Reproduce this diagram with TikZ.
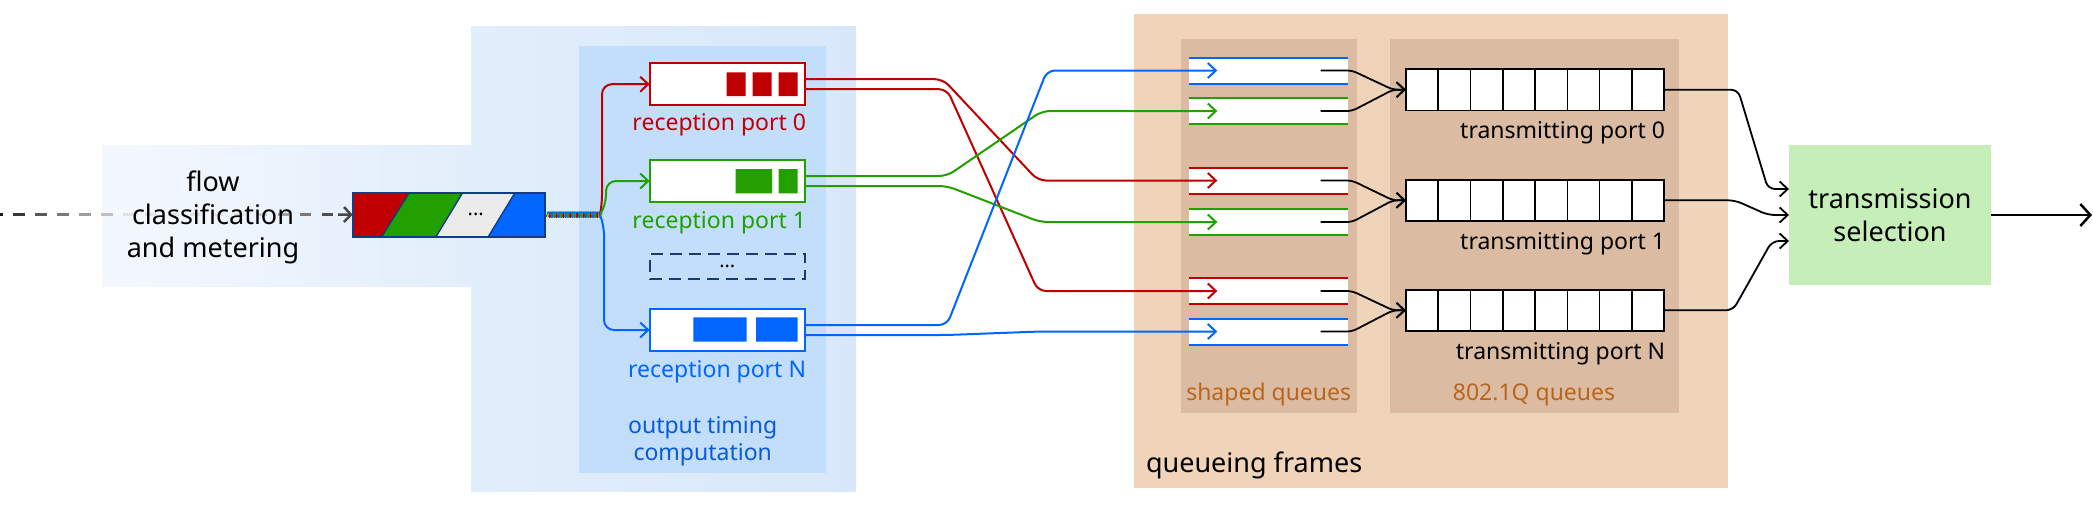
\documentclass[tikz,border=0pt]{standalone}
\usepackage{fontspec}
\setmainfont{Noto Sans}
\usetikzlibrary{arrows.meta,calc}
\definecolor{cred}{HTML}{C00000}
\definecolor{cgreen}{HTML}{22A000}
\definecolor{cblue}{HTML}{0066FF}
\definecolor{tblue}{HTML}{0A5AD6}
\definecolor{navy}{HTML}{123C86}
\definecolor{dnavy}{HTML}{1B3A6E}
\definecolor{bgoutL}{HTML}{E1EEFB}
\definecolor{bgoutR}{HTML}{D8E8FA}
\definecolor{bgin}{HTML}{C2DEFA}
\definecolor{flowL}{HTML}{F4F8FE}
\definecolor{flowR}{HTML}{E2EEFB}
\definecolor{orout}{HTML}{F0D4BA}
\definecolor{orin}{HTML}{DBBCA3}
\definecolor{ortext}{HTML}{B8661E}
\definecolor{selgreen}{HTML}{C6EEB9}
\definecolor{seggray}{HTML}{EBEBEB}
\newcommand\mainfs{\fontsize{27}{33}\selectfont}
\newcommand\smallfs{\fontsize{23}{27}\selectfont}
\begin{document}
\begin{tikzpicture}[x=1pt,y=-1pt, inner sep=0pt, outer sep=0pt,
  tip/.style={-{Straight Barb[length=8,width=15]}},
  conn/.style={line width=2, rounded corners=8, tip},
  rport/.style={draw, line width=2, fill=white, minimum width=155.3, minimum height=41.7},
  tport/.style={draw=black, line width=1.6, fill=white, minimum width=258.4, minimum height=41.2},
  sbar/.style={fill=white, minimum width=158.7, minimum height=26},
  lbl/.style={font=\smallfs, anchor=base east},
  qlbl/.style={font=\smallfs, anchor=base, text=ortext},
  blk/.style={line width=1.8, rounded corners=5, tip}
  ]
\useasboundingbox (0,0) rectangle (2093,512);
% ---------- backgrounds
\shade[left color=flowL, right color=flowR] (102,145) rectangle (472,286);
\shade[left color=bgoutL, right color=bgoutR] (471,26) rectangle (856,491);
\fill[bgin] (579,46) rectangle (826,473);
\fill[orout] (1134,14) rectangle (1728,488);
\fill[orin] (1181,39) rectangle (1357,413);
\fill[orin] (1390,39) rectangle (1679,413);

% ---------- input dashed line with fading
\coordinate (in) at (0,214.5);
\foreach \k in {-1,...,14}{
  \pgfmathsetmacro\xa{13.3+22.03*\k}
  \pgfmathsetmacro\xb{\xa+11.5}
  \pgfmathsetmacro\xm{\xa+5.75}
  \pgfmathtruncatemacro\dk{100*((\xm<130)?(0.9-0.78*\xm/130):((\xm<250)?0.12:(0.12+0.63*(\xm-250)/85)))}
  \draw[line width=2.5, black!\dk] ($(in)+(\xa,0)$) -- ($(in)+(\xb,0)$);
}
\node[font=\mainfs, align=center] (flow) at (213,217.5) {flow\\classification\\and metering};

% ---------- classified frame queue
\node[minimum width=192.3, minimum height=44] (queue) at (448.85,214.7) {};
\fill[cred] (352.7,192.7) -- (409.3,192.7) -- (381.7,236.7) -- (352.7,236.7) -- cycle;
\fill[cgreen] (409.3,192.7) -- (462.7,192.7) -- (436,236.7) -- (381.7,236.7) -- cycle;
\fill[seggray] (462.7,192.7) -- (515,192.7) -- (488.3,236.7) -- (436,236.7) -- cycle;
\fill[cblue] (515,192.7) -- (545,192.7) -- (545,236.7) -- (488.3,236.7) -- cycle;
\draw[navy, line width=1.4] (409.3,192.7) -- (381.7,236.7) (462.7,192.7) -- (436,236.7) (515,192.7) -- (488.3,236.7);
\draw[navy, line width=1.8] (queue.north west) rectangle (queue.south east);
\node[font={\fontsize{20}{24}\selectfont}] (qdots) at (475.7,214.7) {...};
\draw[line width=2.5, black!72, -{Straight Barb[length=7,width=15]}] ($(in)+(338,0)$) -- (queue.west);

% ---------- braid (looped strands)
\coordinate (split) at (600,214.7);
\foreach \c/\ph in {cred/0, cgreen/120, cblue/240}
  \draw[\c, line width=1.2] plot[domain=0:52, samples=160, smooth] ({548+\x+2.2*cos(\x*52.94+\ph)},{214.7+2.6*sin(\x*52.94+\ph)});

% ---------- reception ports
\node[rport, draw=cred] (port0) at (727.3,84.2) {};
\node[rport, draw=cgreen] (port1) at (727.3,181) {};
\node[rport, draw=cblue] (portN) at (727.3,330) {};
\fill[cred] (726.7,72.3) rectangle (745.7,96) (752.7,72.3) rectangle (771.7,96) (778.7,72.3) rectangle (797.7,96);
\fill[cgreen] (735.7,169) rectangle (772,193.3) (778.7,169) rectangle (797.7,193.3);
\fill[cblue] (693.3,317.3) rectangle (746.7,341.7) (756,317.3) rectangle (797.7,341.7);
\node[lbl, text=cred] (l0) at (806,130) {reception port 0};
\node[lbl, text=cgreen] (l1) at (806,228.3) {reception port 1};
\node[lbl, text=cblue] (lN) at (806,377.3) {reception port N};
\node[draw=dnavy, line width=2, dash pattern=on 12pt off 7pt, minimum width=155.3, minimum height=25.3, font={\fontsize{20}{24}\selectfont}] (dotsbox) at (727.3,266.3) {...};
\node[font=\smallfs, align=center, text=tblue] (otc) at (702.7,441) {output timing\\computation};

\draw[cred, conn, rounded corners=10] (split) -- (602,205) |- (port0.west);
\draw[cgreen, conn, rounded corners=10] (split) -- (606,205) |- (port1.west);
\draw[cblue, conn, rounded corners=10] (split) -- (604,225) |- (portN.west);

% ---------- shaped queues
\foreach \n/\yy/\c in {1/70.5/cblue, 2/111/cgreen, 3/180.5/cred, 4/222/cgreen, 5/291/cred, 6/331.5/cblue} {
  \node[sbar] (q\n) at (1268.65,\yy) {};
  \draw[\c, line width=2] (q\n.north west) -- (q\n.north east) (q\n.south west) -- (q\n.south east);
}
\node[qlbl] (sqlbl) at (1268.7,400) {shaped queues};

% ---------- transmitting ports
\foreach \n/\yy in {0/89.7, 1/200.3, N/310.3} {
  \node[tport] (tp\n) at (1535,\yy) {};
  \foreach \k in {1,...,7}
    \draw[line width=1.6] ($(tp\n.north west)!\k/8!(tp\n.north east)$) -- ($(tp\n.south west)!\k/8!(tp\n.south east)$);
}
\node[lbl] (tl0) at (1665,138.3) {transmitting port 0};
\node[lbl] (tl1) at (1665,249.3) {transmitting port 1};
\node[lbl] (tlN) at (1665,359.3) {transmitting port N};
\node[qlbl] (qqlbl) at (1534,400) {802.1Q queues};
\node[font=\mainfs, anchor=base west] (qf) at (1146,472.7) {queueing frames};

% ---------- transmission selection
\node[fill=selgreen, minimum width=202, minimum height=140, align=center, font=\mainfs] (tsel) at (1890,215) {transmission\\selection};
\coordinate (out) at (2092,215);
\draw[line width=2.5, -{Straight Barb[length=10,width=22]}] (tsel.east) -- (out);

% ---------- crossing connectors
\draw[cred, conn] ($(port0.east)+(0,-5)$) -- (943,79.2) -- (1038,180.5) -- ($(q3.west)+(28,0)$);
\draw[cred, conn] ($(port0.east)+(0,5)$) -- (947,89.2) -- (1038,291) -- ($(q5.west)+(28,0)$);
\draw[cgreen, conn] ($(port1.east)+(0,-5)$) -- (947,176) -- (1042,111) -- ($(q2.west)+(28,0)$);
\draw[cgreen, conn] ($(port1.east)+(0,5)$) -- (947,186) -- (1040,222) -- ($(q4.west)+(28,0)$);
\draw[cblue, conn] ($(portN.east)+(0,-5)$) -- (947,325) -- (1047,70.5) -- ($(q1.west)+(28,0)$);
\draw[cblue, conn] ($(portN.east)+(0,5)$) -- (947,335) -- (1040,331.5) -- ($(q6.west)+(28,0)$);

% ---------- shaped queues to transmitting ports
\draw[blk] ($(q1.west)+(131.4,0)$) -- (1352,70.5) -- (1393,89.7) -- (tp0.west);
\draw[blk] ($(q2.west)+(131.4,0)$) -- (1352,111) -- (1393,89.7) -- (tp0.west);
\draw[blk] ($(q3.west)+(131.4,0)$) -- (1352,180.5) -- (1393,200.3) -- (tp1.west);
\draw[blk] ($(q4.west)+(131.4,0)$) -- (1352,222) -- (1393,200.3) -- (tp1.west);
\draw[blk] ($(q5.west)+(131.4,0)$) -- (1352,291) -- (1393,310.3) -- (tpN.west);
\draw[blk] ($(q6.west)+(131.4,0)$) -- (1352,331.5) -- (1393,310.3) -- (tpN.west);

% ---------- transmitting ports to selection
\draw[blk, rounded corners=7] (tp0.east) -- (1738,89.7) -- (1768,189) -- ($(tsel.west)+(0,-26)$);
\draw[blk, rounded corners=7] (tp1.east) -- (1735,200.3) -- (1768,215) -- (tsel.west);
\draw[blk, rounded corners=7] (tpN.east) -- (1733,310.3) -- (1772,241) -- ($(tsel.west)+(0,26)$);
\end{tikzpicture}
\end{document}
